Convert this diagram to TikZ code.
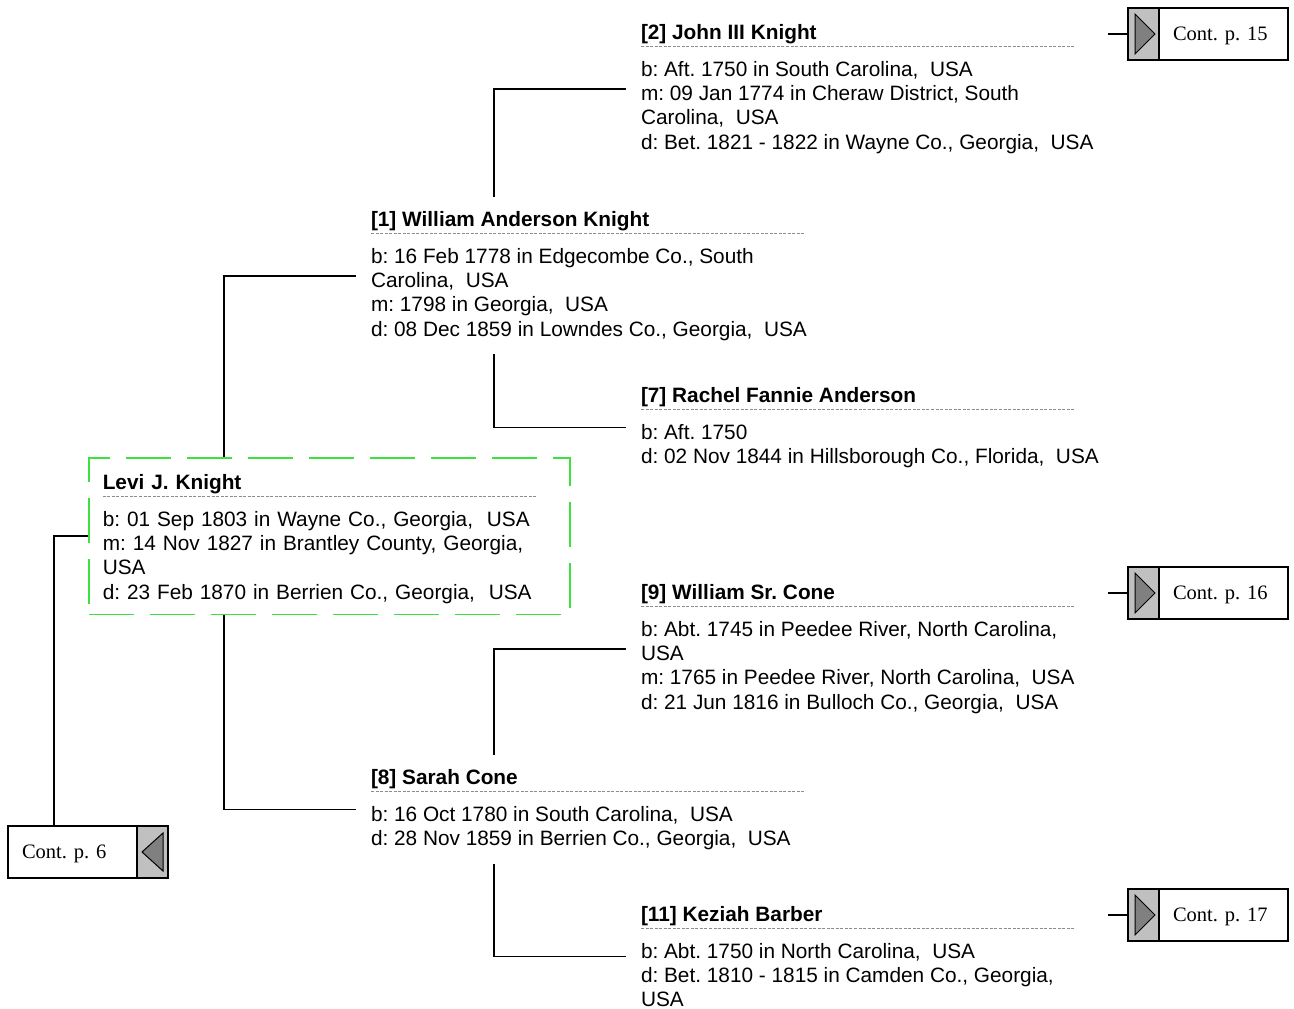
\documentclass[tikz,border=0pt]{standalone}
\usepackage{fontspec}
\setmainfont{Liberation Sans}
\newfontfamily\contfont{Liberation Serif}
\usetikzlibrary{positioning}
\frenchspacing
\definecolor{levigreen}{RGB}{60,225,60}
\definecolor{tabgray}{RGB}{192,192,192}
\definecolor{arrowgray}{RGB}{128,128,128}
\definecolor{rulegray}{RGB}{140,140,140}
\newcommand\personfont{\fontsize{20.8pt}{24.33pt}\selectfont}
\newcommand\namedash{\textcolor{rulegray}{\hbox to 435pt{\xleaders\hbox to 4.5pt{\vrule width 3pt height 0.5pt depth 0.5pt\hss}\hfill}}}
\newcommand\pname[1]{\rlap{\raisebox{-7pt}[0pt][0pt]{\namedash}}\textbf{#1}\\[12.7pt]}
\tikzset{person/.style = {anchor=north west, inner sep=0pt, outer xsep=15pt,
                          outer ysep=14pt, align=left, font=\personfont},
         root/.style = {draw=levigreen, line width=1.5pt, dash pattern=on 45pt off 16pt,
                        anchor=north west, inner xsep=14pt, inner ysep=11pt,
                        text width=453pt, align=left, font=\personfont},
         link/.style = {line width=1.6pt},
         conttext/.style = {draw, line width=1.4pt, outer sep=0pt, minimum height=52pt,
                            text width=101pt, inner xsep=14pt, align=left, text depth=0pt,
                            font=\contfont\fontsize{20.5pt}{24pt}\selectfont},
         conttab/.style = {draw, line width=1.4pt, fill=tabgray, outer sep=0pt,
                           minimum width=31pt, minimum height=52pt, inner sep=0pt},
         tabright/.style = {conttab, path picture={
             \draw[line width=1pt, fill=arrowgray]
               ([shift={(7pt,-6pt)}]path picture bounding box.north west)
               -- ([shift={(7pt,6pt)}]path picture bounding box.south west)
               -- ([xshift=-4pt]path picture bounding box.east) -- cycle;}},
         tableft/.style = {conttab, path picture={
             \draw[line width=1pt, fill=arrowgray]
               ([shift={(-5pt,-7pt)}]path picture bounding box.north east)
               -- ([shift={(-5pt,7pt)}]path picture bounding box.south east)
               -- ([xshift=5pt]path picture bounding box.west) -- cycle;}}}

\begin{document}
\begin{tikzpicture}[x=1pt, y=-1pt]
    \useasboundingbox (0, 0) rectangle (1294, 1009);

    % root person
    \node [root] (levi) at (88, 457) {\rule{0pt}{20.5pt}\pname{Levi J. Knight}
      b: 01 Sep 1803 in Wayne Co., Georgia,~~USA\\
      m: 14 Nov 1827 in Brantley County, Georgia,\\
      USA\\
      d: 23 Feb 1870 in Berrien Co., Georgia,~~USA};

    % parents
    \node [person] (p1) at (356, 197) {\pname{[1] William Anderson Knight}
      b: 16 Feb 1778 in Edgecombe Co., South\\
      Carolina,~~USA\\
      m: 1798 in Georgia,~~USA\\
      d: 08 Dec 1859 in Lowndes Co., Georgia,~~USA};
    \node [person] (p8) at (356, 755) {\pname{[8] Sarah Cone}
      b: 16 Oct 1780 in South Carolina,~~USA\\
      d: 28 Nov 1859 in Berrien Co., Georgia,~~USA};

    % grandparents
    \node [person] (p2) at (626, 10) {\pname{[2] John III Knight}
      b: Aft. 1750 in South Carolina,~~USA\\
      m: 09 Jan 1774 in Cheraw District, South\\
      Carolina,~~USA\\
      d: Bet. 1821 - 1822 in Wayne Co., Georgia,~~USA};
    \node [person] (p7) at (626, 373) {\pname{[7] Rachel Fannie Anderson}
      b: Aft. 1750\\
      d: 02 Nov 1844 in Hillsborough Co., Florida,~~USA};
    \node [person] (p9) at (626, 570) {\pname{[9] William Sr. Cone}
      b: Abt. 1745 in Peedee River, North Carolina,\\
      USA\\
      m: 1765 in Peedee River, North Carolina,~~USA\\
      d: 21 Jun 1816 in Bulloch Co., Georgia,~~USA};
    \node [person] (p11) at (626, 892) {\pname{[11] Keziah Barber}
      b: Abt. 1750 in North Carolina,~~USA\\
      d: Bet. 1810 - 1815 in Camden Co., Georgia,\\
      USA};

    % continuation boxes
    \node [tabright] (tab2) at (1143.5, 34) {};
    \node [conttext, right=0pt of tab2] (cont2) {Cont. p. 15};
    \node [tabright] (tab9) at (1143.5, 593) {};
    \node [conttext, right=0pt of tab9] (cont9) {Cont. p. 16};
    \node [tabright] (tab11) at (1143.5, 915) {};
    \node [conttext, right=0pt of tab11] (cont11) {Cont. p. 17};
    \node [conttext, anchor=north west] (cont6) at (8, 826) {Cont. p. 6};
    \node [tableft, right=0pt of cont6] (tab6) {};
    \coordinate [left=20pt of tab2] (s2);
    \coordinate [left=20pt of tab9] (s9);
    \coordinate [left=20pt of tab11] (s11);

    % links
    \draw [link] ([xshift=136pt]levi.north west) |- (p1.west);
    \draw [link] ([xshift=136pt]levi.south west) |- (p8.west);
    \draw [link] ([xshift=138pt]p1.north west) |- (p2.west);
    \draw [link] ([xshift=138pt]p1.south west) |- (p7.west);
    \draw [link] ([xshift=138pt]p8.north west) |- (p9.west);
    \draw [link] ([xshift=138pt]p8.south west) |- (p11.west);
    \draw [link] ([xshift=46pt]cont6.north west) |- (levi.west);
    \draw [link] (s2) -- (tab2.west);
    \draw [link] (s9) -- (tab9.west);
    \draw [link] (s11) -- (tab11.west);
  \end{tikzpicture}
\end{document}
